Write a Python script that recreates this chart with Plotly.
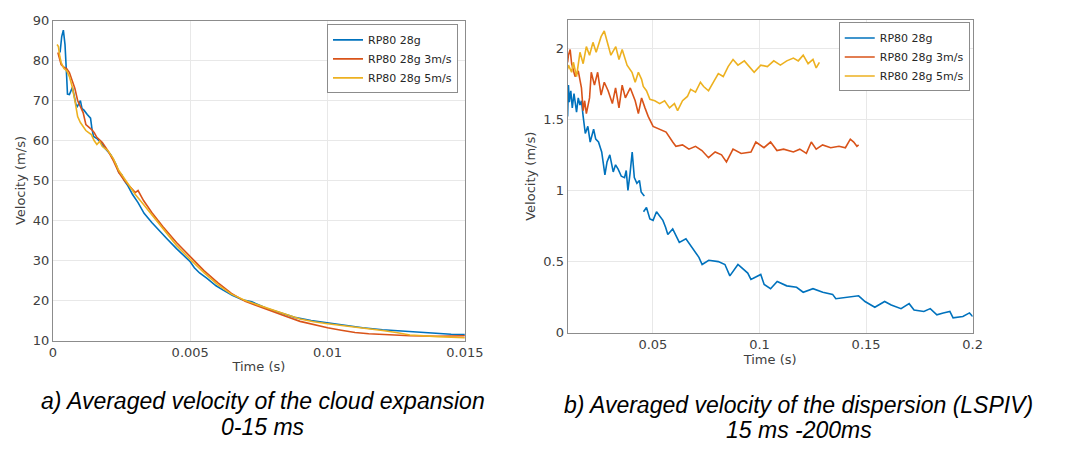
import plotly.graph_objects as go

# ---------------- data: left panel (0-15 ms) ----------------
t_a_blue = [0.00026, 0.00032, 0.00038, 0.00044, 0.00050, 0.00053, 0.00060, 0.00066, 0.00071, 0.00078,
            0.00084, 0.00089, 0.00095, 0.00100, 0.00106, 0.00113, 0.00125, 0.00137, 0.00142, 0.00148,
            0.00160, 0.00175, 0.0019, 0.0021, 0.0023, 0.0024, 0.0025, 0.0026, 0.00273, 0.0029,
            0.0031, 0.00332, 0.0036, 0.0039, 0.00416, 0.0045, 0.0048, 0.0050, 0.00515, 0.00534,
            0.0056, 0.00594, 0.0062, 0.00653, 0.0069, 0.00724, 0.0078, 0.00831, 0.0088, 0.0094,
            0.00998, 0.0106, 0.01128, 0.0120, 0.01306, 0.0140, 0.0145, 0.0150]
v_a_blue = [82, 86, 87.6, 84, 76, 71.6, 71.5, 72.5, 73.3, 71,
            69, 68.5, 69.5, 70, 68, 67.6, 66.5, 65.6, 63, 61,
            60.5, 59.5, 58, 56.5, 54, 52, 51.5, 50, 48.7, 46.5,
            44.5, 41.8, 39.5, 37.2, 35.4, 33, 31, 29.7, 28.2, 26.9,
            25.6, 23.7, 22.6, 21.3, 20.2, 19.7, 18, 16.8, 15.8, 15,
            14.4, 13.8, 13.2, 12.7, 12.2, 11.8, 11.6, 11.5]

t_a_red = [0.00018, 0.00022, 0.00026, 0.0003, 0.0004, 0.0005, 0.0006, 0.0007, 0.0008, 0.0009,
           0.001, 0.0011, 0.0012, 0.0013, 0.0014, 0.0015, 0.0016, 0.0018, 0.002, 0.0022,
           0.0024, 0.0026, 0.0028, 0.0030, 0.0031, 0.0033, 0.0036, 0.004, 0.0045, 0.005,
           0.0055, 0.006, 0.0065, 0.007, 0.0075, 0.008, 0.0085, 0.009, 0.0095, 0.01,
           0.0105, 0.011, 0.0115, 0.012, 0.013, 0.014, 0.015]
v_a_red = [82, 81, 79.5, 79, 78.3, 78, 77, 75, 73, 70,
           68.5, 67, 64, 63.5, 62.8, 62, 60.8, 59.5, 57.5, 55,
           52, 50, 48.5, 47, 47.5, 45, 42, 38.5, 34.5, 31,
           27.5, 24.5, 21.8, 19.8, 18.5, 17.2, 16, 14.8, 14, 13.2,
           12.6, 12, 11.7, 11.5, 11.2, 11.1, 11.2]

t_a_yel = [0.00015, 0.0002, 0.00025, 0.0003, 0.0004, 0.0005, 0.0006, 0.0007, 0.0008, 0.0009,
           0.001, 0.0011, 0.0012, 0.0013, 0.0014, 0.0015, 0.0016, 0.0017, 0.0018, 0.002,
           0.0022, 0.0024, 0.0026, 0.0028, 0.003, 0.0033, 0.0036, 0.004, 0.0045, 0.005,
           0.0055, 0.006, 0.0065, 0.007, 0.0075, 0.008, 0.0085, 0.009, 0.0095, 0.01,
           0.0105, 0.011, 0.0115, 0.012, 0.0125, 0.013, 0.014, 0.015]
v_a_yel = [84, 83.5, 81, 79.5, 78, 77.5, 76, 73.5, 70, 66,
           64.5, 63.5, 62.5, 62, 61.5, 60, 59, 59.8, 58.5, 57.5,
           55.5, 52.5, 50.5, 48.5, 46.5, 44, 41.5, 38, 33.8, 30.3,
           27, 24, 21.6, 20, 18.8, 17.6, 16.5, 15.4, 14.7, 14.2,
           13.8, 13.4, 13, 12.5, 12, 11.4, 11, 10.7]

# ---------------- data: right panel (15-200 ms) ----------------
t_b_blue = [0.0100, 0.0104, 0.0108, 0.0115, 0.0122, 0.0130, 0.0142, 0.0150, 0.0158, 0.0165,
            0.0173, 0.0183, 0.0195, 0.0206, 0.0222, 0.0232, 0.0245, 0.0260, 0.0275, 0.0285,
            0.0298, 0.0314, 0.0325, 0.0337, 0.0352, 0.0367, 0.0375, 0.0383, 0.0393, 0.0403,
            0.0413, 0.0425, 0.0437, 0.0445, 0.0455, 0.0460, None,
            0.0456, 0.0470, 0.0486, 0.0501, 0.0517, 0.0530, 0.0547, 0.0560, 0.0570, 0.0593,
            0.0610, 0.0624, 0.0655, 0.0685, 0.0716, 0.0731, 0.0762, 0.0807, 0.0838, 0.0861,
            0.0899, 0.0945, 0.0960, 0.1006, 0.1022, 0.1052, 0.1083, 0.1128, 0.1174, 0.1205,
            0.1251, 0.1297, 0.1343, 0.1358, 0.1419, 0.1465, 0.1495, 0.1541, 0.1587, 0.1618,
            0.1664, 0.1702, 0.1725, 0.1771, 0.1801, 0.1832, 0.1862, 0.1893, 0.1908, 0.1954,
            0.1985, 0.2000]
v_b_blue = [1.52, 1.74, 1.62, 1.70, 1.58, 1.68, 1.55, 1.65, 1.60, 1.63,
            1.52, 1.40, 1.45, 1.34, 1.43, 1.36, 1.34, 1.27, 1.11, 1.20,
            1.25, 1.13, 1.18, 1.15, 1.10, 1.09, 1.14, 1.00, 1.12, 1.27,
            1.09, 1.05, 1.07, 0.99, 0.97, 0.96, None,
            0.85, 0.88, 0.80, 0.79, 0.85, 0.82, 0.79, 0.74, 0.69, 0.73,
            0.68, 0.635, 0.66, 0.60, 0.53, 0.48, 0.51, 0.50, 0.48, 0.40,
            0.48, 0.42, 0.375, 0.41, 0.34, 0.31, 0.36, 0.33, 0.32, 0.285,
            0.31, 0.285, 0.27, 0.24, 0.25, 0.26, 0.22, 0.18, 0.22, 0.195,
            0.17, 0.205, 0.16, 0.15, 0.17, 0.127, 0.14, 0.15, 0.105, 0.115,
            0.14, 0.115]

t_b_red = [0.0100, 0.0104, 0.0112, 0.0119, 0.0135, 0.0150, 0.0165, 0.0173, 0.0180, 0.0188,
           0.0203, 0.0211, 0.0226, 0.0241, 0.0257, 0.0272, 0.0290, 0.0310, 0.0325, 0.0341,
           0.0356, 0.0371, 0.0394, 0.0417, 0.0432, 0.0447, 0.0463, 0.0478, 0.0501, 0.0532,
           0.0562, 0.0593, 0.0608, 0.0639, 0.0669, 0.0700, 0.0730, 0.0761, 0.0792, 0.0822,
           0.0845, 0.0876, 0.0914, 0.0960, 0.0983, 0.1021, 0.1052, 0.1082, 0.1113, 0.1159,
           0.1189, 0.1220, 0.1243, 0.1266, 0.1296, 0.1334, 0.1373, 0.1403, 0.1426, 0.1442,
           0.1457, 0.1465]
v_b_red = [1.90, 1.95, 1.99, 1.89, 1.80, 1.84, 1.72, 1.56, 1.63, 1.54,
           1.65, 1.83, 1.74, 1.83, 1.67, 1.76, 1.70, 1.61, 1.72, 1.58,
           1.74, 1.65, 1.72, 1.63, 1.54, 1.65, 1.58, 1.52, 1.45, 1.43,
           1.41, 1.34, 1.31, 1.32, 1.29, 1.31, 1.28, 1.23, 1.27, 1.25,
           1.20, 1.29, 1.26, 1.27, 1.34, 1.30, 1.34, 1.28, 1.29, 1.27,
           1.29, 1.26, 1.34, 1.29, 1.32, 1.30, 1.31, 1.30, 1.36, 1.34,
           1.31, 1.32]

t_b_yel = [0.0100, 0.0104, 0.0119, 0.0127, 0.0142, 0.0158, 0.0173, 0.0188, 0.0203, 0.0219,
           0.0234, 0.0257, 0.0272, 0.0287, 0.0303, 0.0326, 0.0341, 0.0356, 0.0379, 0.0402,
           0.0417, 0.0432, 0.0447, 0.0455, 0.0470, 0.0486, 0.0509, 0.0532, 0.0555, 0.0578,
           0.0601, 0.0616, 0.0639, 0.0662, 0.0677, 0.0700, 0.0723, 0.0738, 0.0761, 0.0784,
           0.0807, 0.0830, 0.0853, 0.0876, 0.0899, 0.0929, 0.0960, 0.0975, 0.1006, 0.1037,
           0.1067, 0.1098, 0.1128, 0.1159, 0.1182, 0.1205, 0.1228, 0.1251, 0.1266, 0.1281]
v_b_yel = [1.85, 1.88, 1.83, 1.90, 1.80, 1.97, 1.89, 2.01, 1.95, 2.04,
           1.97, 2.08, 2.12, 2.03, 1.95, 2.01, 1.92, 1.99, 1.88, 1.83,
           1.76, 1.83, 1.78, 1.73, 1.70, 1.64, 1.63, 1.61, 1.63, 1.58,
           1.61, 1.56, 1.63, 1.66, 1.71, 1.69, 1.76, 1.73, 1.70, 1.76,
           1.82, 1.80, 1.87, 1.92, 1.88, 1.91, 1.86, 1.83, 1.88, 1.87,
           1.91, 1.88, 1.91, 1.93, 1.91, 1.95, 1.89, 1.92, 1.86, 1.90]

names = ["RP80 28g", "RP80 28g 3m/s", "RP80 28g 5m/s"]
colors = ["#0072BD", "#D95319", "#EDB120"]

x_ticks_a = [0, 0.005, 0.01, 0.015]
x_ticklabels_a = ["0", "0.005", "0.01", "0.015"]
y_ticks_a = [10, 20, 30, 40, 50, 60, 70, 80, 90]
x_ticks_b = [0.05, 0.1, 0.15, 0.2]
x_ticklabels_b = ["0.05", "0.1", "0.15", "0.2"]
y_ticks_b = [0, 0.5, 1, 1.5, 2]
y_ticklabels_b = ["0", "0.5", "1", "1.5", "2"]

caption_a = ["a) Averaged velocity of the cloud expansion", "0-15 ms"]
caption_b = ["b) Averaged velocity of the dispersion (LSPIV)", "15 ms -200ms"]

W, H = 1068, 453
fig = go.Figure()

series_a = [(t_a_blue, v_a_blue), (t_a_red, v_a_red), (t_a_yel, v_a_yel)]
series_b = [(t_b_blue, v_b_blue), (t_b_red, v_b_red), (t_b_yel, v_b_yel)]

for (t, v), n, c in zip(series_a, names, colors):
    fig.add_trace(go.Scatter(x=t, y=v, mode="lines", name=n, line=dict(color=c, width=1.6),
                             xaxis="x", yaxis="y", legend="legend"))
for (t, v), n, c in zip(series_b, names, colors):
    fig.add_trace(go.Scatter(x=t, y=v, mode="lines", name=n, line=dict(color=c, width=1.6),
                             xaxis="x2", yaxis="y2", legend="legend2", connectgaps=False))

FONT = "DejaVu Sans, Liberation Sans, sans-serif"
tickfont = dict(family=FONT, size=13, color="#404040")
titlefont = dict(family=FONT, size=13, color="#404040")
axis_common = dict(showgrid=True, gridcolor="#e8e8e8", gridwidth=1, showline=True,
                   linecolor="#8c8c8c", linewidth=1, mirror=True, zeroline=False,
                   ticks="", tickfont=tickfont, title_font=titlefont)


def px(x):
    return x / W


def py(y):
    return 1 - y / H


legend_common = dict(bgcolor="white", bordercolor="#8c8c8c", borderwidth=1,
                     font=dict(family=FONT, size=11, color="#262626"),
                     tracegroupgap=0, itemwidth=30)

cap_font = dict(family="Liberation Sans, Arial, sans-serif",
                size=23, color="black", style="italic")

annotations = []
for text, (cx, cy) in zip(caption_a + caption_b,
                          [(265, 407), (265, 434), (812, 412), (812, 438)]):
    annotations.append(dict(text=text, x=px(cx), y=py(cy), xref="paper", yref="paper",
                            xanchor="center", yanchor="middle", showarrow=False, font=cap_font))

fig.update_layout(
    width=W, height=H,
    margin=dict(l=0, r=0, t=0, b=0),
    paper_bgcolor="white", plot_bgcolor="white",
    showlegend=True,
    xaxis=dict(domain=[px(50), px(471)], range=[0, 0.015], tickvals=x_ticks_a,
               ticktext=x_ticklabels_a, title=dict(text="Time (s)", standoff=2),
               anchor="y", **axis_common),
    yaxis=dict(domain=[py(345), py(14)], range=[10, 90], tickvals=y_ticks_a,
               title=dict(text="Velocity (m/s)", standoff=4), anchor="x", **axis_common),
    xaxis2=dict(domain=[px(576), px(990)], range=[0.01, 0.2], tickvals=x_ticks_b,
                ticktext=x_ticklabels_b, title=dict(text="Time (s)", standoff=2),
                anchor="y2", **axis_common),
    yaxis2=dict(domain=[py(337), py(13)], range=[0, 2.2], tickvals=y_ticks_b,
                ticktext=y_ticklabels_b, title=dict(text="Velocity (m/s)", standoff=4),
                anchor="x2", **axis_common),
    legend=dict(x=px(464), xanchor="right", y=py(18), yanchor="top", **legend_common),
    legend2=dict(x=px(987), xanchor="right", y=py(16), yanchor="top", **legend_common),
    annotations=annotations,
)

fig.write_html("out.html")
